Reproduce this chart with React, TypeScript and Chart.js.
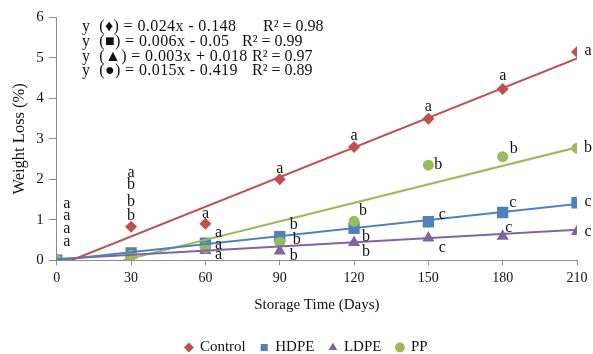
import React, { useEffect, useRef } from "react";
import { Chart, registerables } from "chart.js";

Chart.register(...registerables);

const days = [0, 30, 60, 90, 120, 150, 180, 210];
const controlValues = [0, 0.83, 0.9, 2.0, 2.8, 3.5, 4.23, 5.15];
const hdpeValues = [0, 0.18, 0.42, 0.58, 0.79, 0.95, 1.18, 1.42];
const ldpeValues = [0, 0.12, 0.24, 0.23, 0.44, 0.55, 0.59, 0.71];
const ppValues = [0, 0.12, 0.31, 0.45, 0.96, 2.35, 2.56, 2.77];

const controlLetters = ["a", "a", "a", "a", "a", "a", "a", "a"];
const hdpeLetters = ["a", "b", "a", "b", "b", "c", "c", "c"];
const ldpeLetters = ["a", "b", "a", "b", "b", "c", "c", "c"];
const ppLetters = ["a", "b", "a", "b", "b", "b", "b", "b"];

// trendline end points
const controlTrendX = [6, 210];
const controlTrendY = [0, 4.99];
const hdpeTrendX = [0, 210];
const hdpeTrendY = [0, 1.39];
const ldpeTrendX = [0, 210];
const ldpeTrendY = [0.03, 0.75];
const ppTrendX = [27, 210];
const ppTrendY = [0, 2.79];

const seriesNames = ["Control", "HDPE", "LDPE", "PP"];
const equations = [
  "y  (\u2666) = 0.024x - 0.148",
  "y  (\u25A0) = 0.006x - 0.05",
  "y  (\u25B2) = 0.003x + 0.018",
  "y  (\u25CF) = 0.015x - 0.419",
];
const rSquared = ["R\u00B2 = 0.98", "R\u00B2 = 0.99", "R\u00B2 = 0.97", "R\u00B2 = 0.89"];

const COLORS = ["#C0504D", "#4F81BD", "#8064A2", "#9BBB59"];
const FONT = "'Liberation Serif', 'Times New Roman', serif";

const pts = (xs: number[], ys: number[]) => xs.map((x, i) => ({ x, y: ys[i] }));

// label offsets (px) relative to each point
const letterOffsets: number[][][] = [
  [[10, -56], [0, -54], [0, -10], [0, -11], [0, -11], [0, -12], [0, -13], [11, -1]],
  [[10, -44], [0, -68], [13, -10], [14, -12], [12, 9], [14, -7], [10, -10], [11, -1]],
  [[10, -31], [0, -54], [13, -6], [14, 5], [12, 9], [14, 10], [6, -9], [11, 0]],
  [[10, -18.5], [0, -40], [13, 7], [17, -2], [9, -11], [10, 0], [11, -8], [11, 0]],
];

const textPlugin = {
  id: "textPlugin",
  afterLayout(chart: any) {
    const lg = chart.legend;
    if (lg) {
      lg.left += 14;
      lg.right += 14;
    }
  },
  afterDatasetsDraw(chart: any) {
    const ctx = chart.ctx;
    ctx.save();
    ctx.fillStyle = "#111";
    ctx.textBaseline = "middle";
    ctx.textAlign = "center";
    ctx.font = `16px ${FONT}`;
    const letters = [controlLetters, hdpeLetters, ldpeLetters, ppLetters];
    letters.forEach((arr, s) => {
      const meta = chart.getDatasetMeta(s);
      arr.forEach((t, i) => {
        const el = meta.data[i];
        if (!el) return;
        const off = letterOffsets[s][i];
        ctx.fillText(t, el.x + off[0], el.y + off[1]);
      });
    });
    ctx.textAlign = "left";
    ctx.font = `16px ${FONT}`;
    try {
      ctx.letterSpacing = "0.4px";
    } catch (e) {}
    const lineY = [27, 42, 57, 71];
    const rX = [263, 242, 252, 252];
    equations.forEach((eq, i) => {
      ctx.fillText(eq, 82, lineY[i]);
    });
    try {
      ctx.letterSpacing = "0px";
    } catch (e) {}
    rSquared.forEach((r, i) => {
      ctx.fillText(r, rX[i], lineY[i]);
    });
    ctx.restore();
  },
};

export default function App() {
  const ref = useRef<HTMLCanvasElement | null>(null);
  useEffect(() => {
    if (!ref.current) return;
    const seriesValues = [controlValues, hdpeValues, ldpeValues, ppValues];
    const styles = ["rectRot", "rect", "triangle", "circle"];
    const radii = [6, 8, 7, 5.5];
    const orders = [4, 3, 2, 1];
    const scatterSets = seriesValues.map((vals, i) => ({
      type: "scatter" as const,
      label: seriesNames[i],
      data: pts(days, vals),
      backgroundColor: COLORS[i],
      borderColor: COLORS[i],
      borderWidth: 0,
      pointStyle: styles[i],
      pointRadius: radii[i],
      showLine: false,
      order: orders[i],
    }));
    const trends = [
      pts(controlTrendX, controlTrendY),
      pts(hdpeTrendX, hdpeTrendY),
      pts(ldpeTrendX, ldpeTrendY),
      pts(ppTrendX, ppTrendY),
    ];
    const trendSets = trends.map((d, i) => ({
      type: "line" as const,
      label: seriesNames[i] + " trend",
      data: d,
      borderColor: COLORS[i],
      backgroundColor: COLORS[i],
      borderWidth: 2,
      pointRadius: 0,
      fill: false,
      order: 0,
    }));
    const chart = new Chart(ref.current, {
      type: "scatter",
      data: { datasets: [...scatterSets, ...trendSets] as any },
      options: {
        animation: false,
        responsive: false,
        layout: { padding: { left: 8, right: 16, top: 17.5, bottom: -11 } },
        plugins: {
          tooltip: { enabled: false },
          legend: {
            position: "bottom",
            labels: {
              filter: (item: any) => item.datasetIndex < 4,
              sort: (a: any, b: any) => a.datasetIndex - b.datasetIndex,
              usePointStyle: true,
              boxWidth: 7,
              boxHeight: 7,
              padding: 15,
              color: "#111",
              font: { family: FONT, size: 15 },
            },
          },
        },
        scales: {
          x: {
            type: "linear",
            min: 0,
            max: 210,
            ticks: { stepSize: 30, color: "#111", font: { family: FONT, size: 14 }, padding: 5 },
            grid: { display: true, drawOnChartArea: false, drawTicks: true, tickLength: 5, color: "#8c8c8c" },
            border: { display: true, color: "#8c8c8c" },
            title: {
              display: true,
              text: "Storage Time (Days)",
              color: "#111",
              font: { family: FONT, size: 15 },
              padding: { top: 4, bottom: 11 },
            },
          },
          y: {
            type: "linear",
            min: 0,
            max: 6,
            ticks: { stepSize: 1, color: "#111", font: { family: FONT, size: 15 }, padding: 5 },
            grid: { display: true, drawOnChartArea: false, drawTicks: true, tickLength: 8, color: "#8c8c8c" },
            border: { display: true, color: "#8c8c8c" },
            title: {
              display: true,
              text: "Weight Loss (%)",
              color: "#111",
              font: { family: FONT, size: 16.5 },
              padding: { top: 2, bottom: 1.5 },
            },
          },
        },
      },
      plugins: [textPlugin],
    });
    return () => chart.destroy();
  }, []);
  return (
    <div style={{ position: "absolute", left: 0, top: 0, width: 593, height: 354, background: "#fff" }}>
      <canvas ref={ref} width={593} height={354} />
    </div>
  );
}
